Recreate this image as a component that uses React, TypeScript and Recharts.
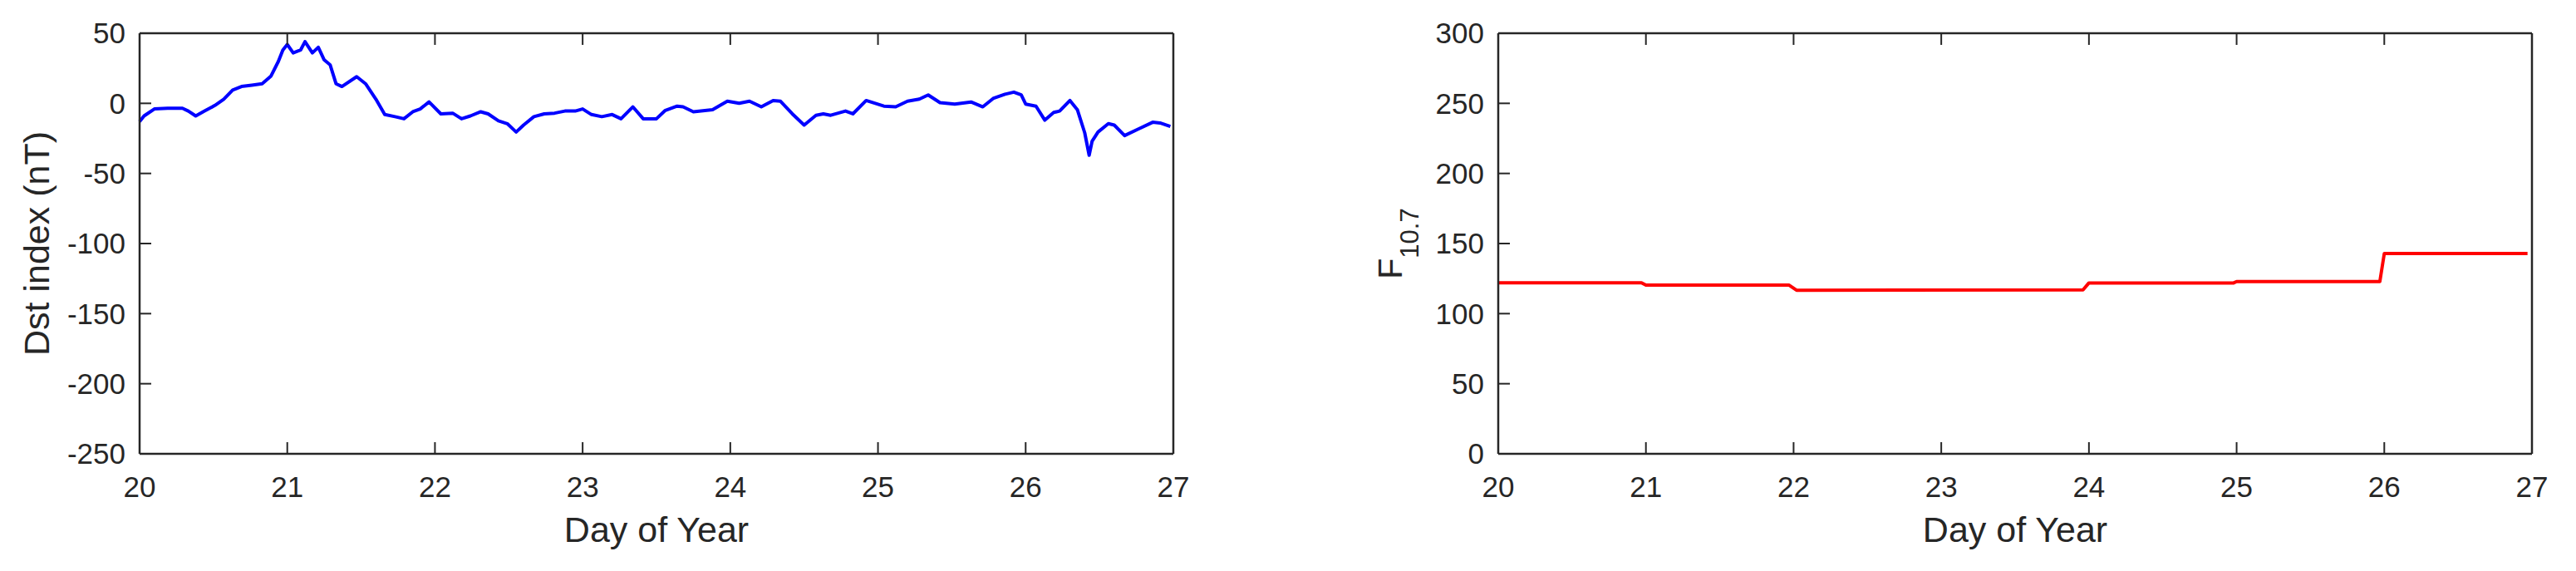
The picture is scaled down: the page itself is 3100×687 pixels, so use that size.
import { LineChart, Line, XAxis, YAxis } from "recharts";

// Dst index
const dstDays = [
  20.0, 20.03, 20.1, 20.19, 20.29, 20.33, 20.38, 20.44, 20.51, 20.57, 20.63,
  20.69, 20.76, 20.83, 20.89, 20.94, 20.97, 21.0, 21.04, 21.09, 21.12, 21.17,
  21.21, 21.25, 21.29, 21.33, 21.37, 21.47, 21.53, 21.6, 21.66, 21.73, 21.79,
  21.85, 21.9, 21.96, 22.04, 22.12, 22.18, 22.24, 22.31, 22.36, 22.43, 22.49,
  22.55, 22.6, 22.67, 22.74, 22.81, 22.88, 22.95, 23.0, 23.06, 23.13, 23.2,
  23.26, 23.34, 23.41, 23.5, 23.56, 23.64, 23.68, 23.75, 23.88, 23.98, 24.06,
  24.13, 24.21, 24.29, 24.34, 24.42, 24.5, 24.58, 24.63, 24.68, 24.78, 24.83,
  24.92, 25.04, 25.12, 25.2, 25.28, 25.34, 25.42, 25.52, 25.63, 25.71, 25.78,
  25.86, 25.92, 25.97, 26.0, 26.07, 26.13, 26.19, 26.23, 26.3, 26.35, 26.4,
  26.43, 26.45, 26.49, 26.56, 26.6, 26.67, 26.76, 26.86, 26.91, 26.98,
];
const dstValues = [
  -13, -9, -4, -3.5, -3.5, -5.5, -9, -5.5, -1.5, 3, 9.5, 12, 13, 14, 19.5, 30,
  38, 42, 36, 38, 44, 36, 40, 31, 27.5, 14, 12, 19, 14, 3, -8, -9.5, -11, -6,
  -4, 1, -7.5, -7, -11, -9, -6, -7.5, -12.5, -14.5, -20.5, -15.5, -9.5, -7.5,
  -7, -5.5, -5.5, -4, -8, -9.5, -8, -11, -2.5, -11, -11, -5, -2, -2.5, -6,
  -4.5, 1.5, 0, 1.5, -2.5, 2, 1.5, -7.5, -15.5, -8.5, -7.5, -8.5, -5.5, -7.5,
  2, -2, -2.5, 1.5, 3, 6, 0.5, -0.5, 1, -2.5, 3.5, 6.5, 8, 6, -0.5, -2, -12,
  -6.5, -5.5, 2, -4.5, -21, -37, -27, -20.5, -14.5, -15.5, -23, -18.5, -13.5,
  -14, -16.5,
];

// F10.7 daily flux, right panel
const f107Days = [20, 20.97, 21.0, 21.97, 22.02, 23.96, 24.0, 24.98, 25.0, 25.97, 26.0, 26.97];
const f107Values = [122, 122, 120.3, 120.3, 116.7, 116.9, 121.9, 121.9, 122.9, 122.9, 142.9, 142.9];

const dayTicks = [20, 21, 22, 23, 24, 25, 26, 27];
const dstTicks = [-250, -200, -150, -100, -50, 0, 50];
const f107Ticks = [0, 50, 100, 150, 200, 250, 300];

const dstData = dstDays.map((day, i) => ({ day, dst: dstValues[i] }));
const f107Data = f107Days.map((day, i) => ({ day, f107: f107Values[i] }));

const AXIS = "#262626";
const FONT = "'Liberation Sans', Arial, Helvetica, sans-serif";
const TICK_LEN = 14;
const TICK_FONT = 35;
const LABEL_FONT = 43;

const BottomTick = ({ x, y, payload }: any) => (
  <g>
    <line x1={x} y1={y} x2={x} y2={y - TICK_LEN} stroke={AXIS} strokeWidth={2} />
    <text x={x} y={y + 27} dy="0.71em" textAnchor="middle" fill={AXIS} fontSize={TICK_FONT} fontFamily={FONT}>
      {payload.value}
    </text>
  </g>
);

const TopTick = ({ x, y }: any) => (
  <line x1={x} y1={y} x2={x} y2={y + TICK_LEN} stroke={AXIS} strokeWidth={2} />
);

const LeftTick = ({ x, y, payload }: any) => (
  <g>
    <line x1={x} y1={y} x2={x + TICK_LEN} y2={y} stroke={AXIS} strokeWidth={2} />
    <text x={x - 17} y={y} dy="0.355em" textAnchor="end" fill={AXIS} fontSize={TICK_FONT} fontFamily={FONT}>
      {payload.value}
    </text>
  </g>
);

const RightTick = ({ x, y }: any) => (
  <line x1={x} y1={y} x2={x - TICK_LEN} y2={y} stroke={AXIS} strokeWidth={2} />
);

const xLabel = ({ viewBox }: any) => (
  <text
    x={viewBox.x + viewBox.width / 2}
    y={viewBox.y + 106}
    textAnchor="middle"
    fill={AXIS}
    fontSize={LABEL_FONT}
    fontFamily={FONT}
  >
    Day of Year
  </text>
);

const dstLabel = ({ viewBox }: any) => {
  const cx = viewBox.x + viewBox.width - 109;
  const cy = viewBox.y + viewBox.height / 2;
  return (
    <text
      x={cx}
      y={cy}
      transform={`rotate(-90, ${cx}, ${cy})`}
      textAnchor="middle"
      fill={AXIS}
      fontSize={LABEL_FONT}
      fontFamily={FONT}
    >
      Dst index (nT)
    </text>
  );
};

const f107Label = ({ viewBox }: any) => {
  const cx = viewBox.x + viewBox.width - 116;
  const cy = viewBox.y + viewBox.height / 2;
  return (
    <text
      x={cx}
      y={cy}
      transform={`rotate(-90, ${cx}, ${cy})`}
      textAnchor="middle"
      fill={AXIS}
      fontSize={41}
      fontFamily={FONT}
    >
      F
      <tspan dy={20} fontSize={31}>
        10.7
      </tspan>
    </text>
  );
};

const axisLine = { stroke: AXIS, strokeWidth: 2.5 };

function Panel({ data, dataKey, color, domain, yTicks, yLabel, left, width, marginLeft }: any) {
  const marginRight = width - marginLeft - 1244;
  return (
    <div style={{ position: "absolute", left, top: 0, width, height: 687 }}>
      <LineChart
        width={width}
        height={687}
        data={data}
        margin={{ top: 39, left: marginLeft - 1, right: marginRight - 1, bottom: 140 }}
      >
        <XAxis
          dataKey="day"
          type="number"
          domain={[20, 27]}
          ticks={dayTicks}
          interval={0}
          height={1}
          tickSize={0}
          tickMargin={0}
          tickLine={false}
          axisLine={axisLine}
          tick={<BottomTick />}
          label={{ content: xLabel }}
        />
        <XAxis
          xAxisId="top"
          orientation="top"
          dataKey="day"
          type="number"
          domain={[20, 27]}
          ticks={dayTicks}
          interval={0}
          height={1}
          tickSize={0}
          tickMargin={0}
          tickLine={false}
          axisLine={axisLine}
          tick={<TopTick />}
        />
        <YAxis
          type="number"
          domain={domain}
          ticks={yTicks}
          interval={0}
          width={1}
          tickSize={0}
          tickMargin={0}
          tickLine={false}
          axisLine={axisLine}
          tick={<LeftTick />}
          label={{ content: yLabel }}
        />
        <YAxis
          yAxisId="right"
          orientation="right"
          type="number"
          domain={domain}
          ticks={yTicks}
          interval={0}
          width={1}
          tickSize={0}
          tickMargin={0}
          tickLine={false}
          axisLine={axisLine}
          tick={<RightTick />}
        />
        <Line
          type="linear"
          dataKey={dataKey}
          stroke={color}
          strokeWidth={4}
          strokeLinejoin="round"
          dot={false}
          isAnimationActive={false}
        />
      </LineChart>
    </div>
  );
}

export default function App() {
  return (
    <div style={{ position: "absolute", left: 0, top: 0, width: 3100, height: 687, background: "#fff" }}>
      <Panel
        data={dstData}
        dataKey="dst"
        color="#0000ff"
        domain={[-250, 50]}
        yTicks={dstTicks}
        yLabel={dstLabel}
        left={0}
        width={1500}
        marginLeft={168}
      />
      <Panel
        data={f107Data}
        dataKey="f107"
        color="#ff0000"
        domain={[0, 300]}
        yTicks={f107Ticks}
        yLabel={f107Label}
        left={1550}
        width={1550}
        marginLeft={253}
      />
    </div>
  );
}
